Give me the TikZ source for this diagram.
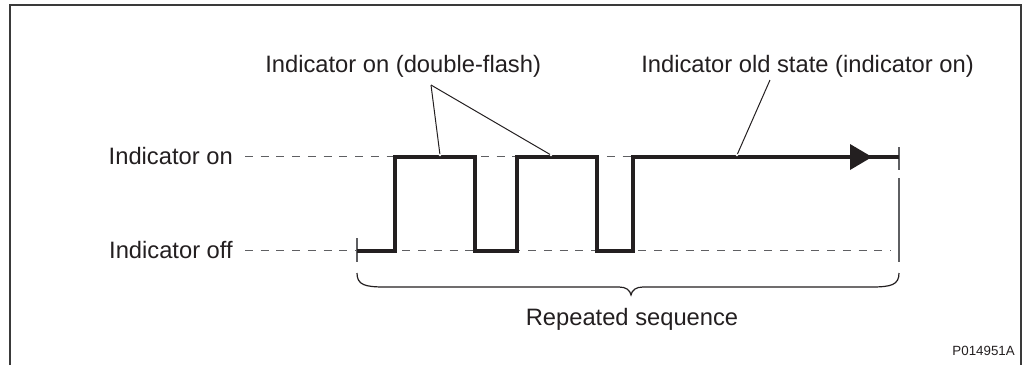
\documentclass[tikz,border=0pt]{standalone}
\usepackage{fontspec}
\setmainfont{Liberation Sans}
\definecolor{ink}{HTML}{231F20}
\definecolor{dashgray}{HTML}{5E5F62}
\definecolor{framegray}{HTML}{3A3A3A}
\tikzset{
  lbl/.style={inner sep=0pt, text=ink, font=\fontsize{17.8}{20}\selectfont},
  smalllbl/.style={inner sep=0pt, text=ink, font=\fontsize{10}{12}\selectfont},
  levelline/.style={draw=dashgray, line width=1.25pt, dash pattern=on 6pt off 5.8pt},
  signal/.style={draw=ink, line width=3.5pt, line join=miter},
  leader/.style={draw=ink, line width=0.75pt},
  tick/.style={draw=dashgray, line width=1.2pt},
  bracestyle/.style={draw=ink, line width=0.9pt},
}
\begin{document}
\begin{tikzpicture}[x=0.75pt, y=-0.75pt]
\useasboundingbox (0,0) rectangle (1031,365);
% frame (open at bottom)
\draw[framegray, line width=1.5pt] (10,365) -- (10,5) -- (1021,5) -- (1021,365);

% labels
\node[lbl, anchor=base east] (lon) at (233,164) {Indicator on};
\node[lbl, anchor=base east] (loff) at (233,258) {Indicator off};
\node[lbl, anchor=base west] (ldf) at (265,72) {Indicator on (double-flash)};
\node[lbl, anchor=base west] (lold) at (641,72) {Indicator old state (indicator on)};
\node[lbl, anchor=base] (lrep) at (632,325) {Repeated sequence};
\node[smalllbl, anchor=base east] (pid) at (1015,355) {P014951A};

% level coordinates
\coordinate (onstart) at (245,156.5);
\coordinate (onend) at (633,156.5);
\coordinate (offstart) at (245,250.5);
\coordinate (offend) at (891,250.5);
\draw[levelline] (onstart) -- (onend);
\draw[levelline] (offstart) -- (offend);

% ticks
\coordinate (t0a) at (357,238);
\coordinate (t0b) at (357,262);
\draw[tick] (t0a) -- (t0b);
\coordinate (t1a) at (899,147);
\coordinate (t1b) at (899,170);
\coordinate (t1c) at (899,178);
\coordinate (t1d) at (899,262);
\draw[tick] (t1a) -- (t1b);
\draw[tick] (t1c) -- (t1d);

% signal
\coordinate (s0) at (357,251);
\coordinate (s1) at (395,251);
\coordinate (s2) at (395,157);
\coordinate (s3) at (475,157);
\coordinate (s4) at (475,251);
\coordinate (s5) at (517,251);
\coordinate (s6) at (517,157);
\coordinate (s7) at (597,157);
\coordinate (s8) at (597,251);
\coordinate (s9) at (633,251);
\coordinate (s10) at (633,157);
\coordinate (s11) at (899,157);
\draw[signal] (s0) -- (s1) -- (s2) -- (s3) -- (s4) -- (s5) -- (s6) -- (s7) -- (s8) -- (s9) -- (s10) -- (s11);
% arrowhead
\fill[ink] (850,144) -- (872,157) -- (850,170) -- cycle;

% leaders
\coordinate (dfo) at (431,85);
\coordinate (dfa) at (440,155);
\coordinate (dfb) at (551,155);
\coordinate (oldo) at (770,80);
\coordinate (olda) at (737,155);
\draw[leader] (dfo) -- (dfa);
\draw[leader] (dfo) -- (dfb);
\draw[leader] (oldo) -- (olda);
\fill[white] (dfa) circle (1.3);
\fill[white] (dfb) circle (1.3);
\fill[white] (olda) circle (1.3);

% brace
\coordinate (bl) at (357,273);
\coordinate (bt) at (631,295);
\coordinate (br) at (899,273);
\draw[bracestyle] (bl) .. controls (357,285) and (365,287) .. (385,287) -- (619,287)
  .. controls (626,287) and (630,290) .. (bt)
  .. controls (632,290) and (636,287) .. (643,287) -- (871,287)
  .. controls (891,287) and (899,285) .. (br);
\end{tikzpicture}
\end{document}
